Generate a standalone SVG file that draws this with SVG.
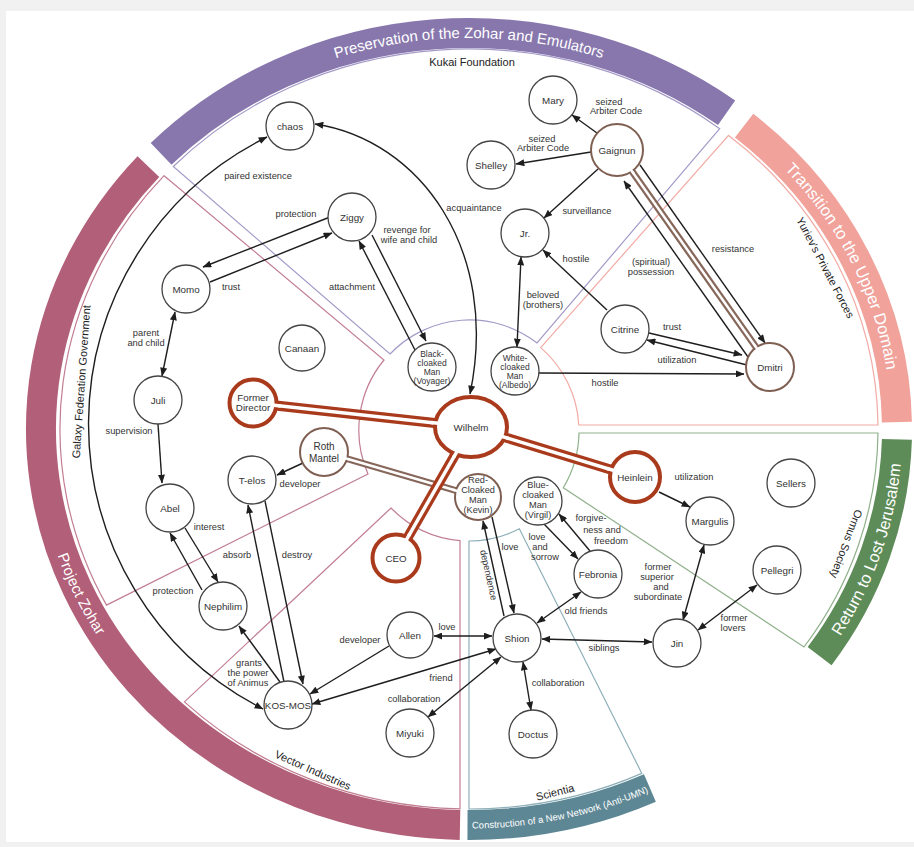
<svg xmlns="http://www.w3.org/2000/svg" width="914" height="847" viewBox="0 0 914 847">
<defs>
<style>
.band{fill:none;stroke-width:30;stroke-linecap:butt}
.bt{font-family:"Liberation Sans",Arial,sans-serif;font-size:15px;fill:#fff}
.reg{fill:none;stroke-width:1.2}
.rl{font-family:"Liberation Sans",Arial,sans-serif;font-size:11px;fill:#222;text-anchor:middle}
.n{fill:#fff;stroke:#444;stroke-width:1.3}
.nr{fill:#fff;stroke:#a93a1c;stroke-width:4}
.nb{fill:#fff;stroke:#7e5f52;stroke-width:2}
.t{font-family:"Liberation Sans",Arial,sans-serif;font-size:9.8px;fill:#333;text-anchor:middle}
.ts{font-family:"Liberation Sans",Arial,sans-serif;font-size:8.5px;fill:#333;text-anchor:middle}
.tm{font-family:"Liberation Sans",Arial,sans-serif;font-size:9.2px;fill:#333;text-anchor:middle}
.e{fill:none;stroke:#1e1e1e;stroke-width:1.4}
.el{font-family:"Liberation Sans",Arial,sans-serif;font-size:9.3px;fill:#333;text-anchor:middle}
.tr{stroke:#a93a1c;stroke-width:10;fill:none}
.tb{stroke:#86675a;stroke-width:7;fill:none}
.tw{stroke:#fff;stroke-width:3.5;fill:none}
.twb{stroke:#fff;stroke-width:2.5;fill:none}
</style>
<marker id="ah" viewBox="0 0 10 8" refX="9.5" refY="4" markerWidth="9" markerHeight="7" markerUnits="userSpaceOnUse" orient="auto-start-reverse">
<path d="M0,0 L10,4 L0,8 z" fill="#1e1e1e"/>
</marker>
<path id="tp-purple" d="M172.7,152.5 A419,391 0 0 1 765.3,152.5"/>
<path id="tp-salmon" d="M740.6,129.9 A422.5,390.5 0 0 1 891.5,429"/>
<path id="tp-green" d="M824.1,659.3 A433.5,401.5 0 0 0 902.4,436"/>
<path id="tp-teal" d="M469,828.5 A431.5,399.5 0 0 0 651.4,791.1"/>
<path id="tp-pink" d="M37.1,464 A433.5,401.5 0 0 0 157.2,707.9"/>
</defs>

<rect x="0" y="0" width="914" height="847" fill="#f1f1f1"/>
<rect x="6" y="11" width="908" height="831" fill="#fff"/>

<g id="bands">
<path class="band" stroke="#8877ad" d="M161.1,153.9 A428,396 0 0 1 726.6,112.8"/>
<path class="band" stroke="#f0a29b" d="M744.1,125.7 A428,396 0 0 1 896.9,422.1"/>
<path class="band" stroke="#5d8c58" d="M896.9,439.4 A428,396 0 0 1 819.6,656.1"/>
<path class="band" stroke="#5d8795" d="M649.9,787.9 A428,396 0 0 1 467.5,825"/>
<path class="band" stroke="#b25f79" d="M460,824.9 A428,396 0 0 1 148.4,166.6"/>
<text class="bt"><textPath href="#tp-purple" startOffset="50%" text-anchor="middle">Preservation of the Zohar and Emulators</textPath></text>
<text class="bt" style="font-size:16.5px"><textPath href="#tp-salmon" startOffset="50%" text-anchor="middle">Transition to the Upper Domain</textPath></text>
<text class="bt" style="font-size:16.5px"><textPath href="#tp-green" startOffset="50%" text-anchor="middle">Return to Lost Jerusalem</textPath></text>
<text class="bt" style="font-size:9.5px"><textPath href="#tp-teal" startOffset="50%" text-anchor="middle">Construction of a New Network (Anti-UMN)</textPath></text>
<text class="bt"><textPath href="#tp-pink" startOffset="50%" text-anchor="middle">Project Zohar</textPath></text>
</g>

<g id="regions">
<path class="reg" stroke="#a49ac8" d="M173.3,166.5 A409,380 0 0 1 719.7,128.7 L537,343 A110,110 0 0 0 390,354 Z"/>
<path class="reg" stroke="#c27d92" d="M164.1,175.7 L384,360 A110,110 0 0 0 368,474 L106.5,605.1 A409,380 0 0 1 164.1,175.7 Z"/>
<path class="reg" stroke="#c27d92" d="M391,508 L184.4,701.9 A409,380 0 0 0 460,808.9 L460,540.6 A110,110 0 0 1 391,508 Z"/>
<path class="reg" stroke="#8eb0b9" d="M469,541 A110,110 0 0 0 519.3,528.8 L641.8,773.4 A409,380 0 0 1 469,809 Z"/>
<path class="reg" stroke="#8fb18b" d="M579,433 L878,433 A409,380 0 0 1 804,647 L563.3,487.7 A110,110 0 0 0 579,433 Z"/>
<path class="reg" stroke="#f3aaa4" d="M578.8,425 L878,425 A409,380 0 0 0 728.6,135.4 L540.7,347.6 A110,110 0 0 1 578.8,425 Z"/>
<text class="rl" x="472" y="66">Kukai Foundation</text>
<text class="rl" transform="translate(85,382) rotate(-86)">Galaxy Federation Government</text>
<text class="rl" transform="translate(311.4,773.7) rotate(24)">Vector Industries</text>
<text class="rl" transform="translate(556,796) rotate(-14)">Scientia</text>
<text class="rl" transform="translate(822,269.4) rotate(62.4)">Yuriev's Private Forces</text>
<text class="rl" transform="translate(842.8,542.6) rotate(110.6)">Ormus Society</text>
</g>

<g id="connectors">
<line class="tb" x1="324" y1="452" x2="478" y2="497"/>
<line class="twb" x1="324" y1="452" x2="478" y2="497"/>
<line class="tb" x1="617" y1="150" x2="770" y2="367"/>
<line class="twb" x1="617" y1="150" x2="770" y2="367"/>
<line class="tr" x1="253" y1="403" x2="471" y2="427"/>
<line class="tr" x1="471" y1="427" x2="635" y2="477"/>
<line class="tr" x1="471" y1="427" x2="396" y2="558"/>
<line class="tw" x1="253" y1="403" x2="471" y2="427"/>
<line class="tw" x1="471" y1="427" x2="635" y2="477"/>
<line class="tw" x1="471" y1="427" x2="396" y2="558"/>
<path class="e" marker-end="url(#ah)" d="M330,217 L203,267"/>
<path class="e" marker-end="url(#ah)" d="M210,282 L332,233"/>
<path class="e" marker-end="url(#ah)" d="M372,235 L426,341"/>
<path class="e" marker-end="url(#ah)" d="M415,350 L359,241"/>
<path class="e" marker-start="url(#ah)" marker-end="url(#ah)" d="M175,312 L162,376"/>
<path class="e" marker-end="url(#ah)" d="M158,424 L162,483"/>
<path class="e" marker-end="url(#ah)" d="M185,528 L218,582"/>
<path class="e" marker-end="url(#ah)" d="M202,590 L170,533"/>
<path class="e" marker-end="url(#ah)" d="M303,463 L277,475"/>
<path class="e" marker-end="url(#ah)" d="M284,682 L248,505"/>
<path class="e" marker-end="url(#ah)" d="M265,501 L303,684"/>
<path class="e" marker-end="url(#ah)" d="M280,682 L239,626"/>
<path class="e" marker-end="url(#ah)" d="M389,646 L310,694"/>
<path class="e" marker-start="url(#ah)" marker-end="url(#ah)" d="M312,704 L496,649"/>
<path class="e" marker-start="url(#ah)" marker-end="url(#ah)" d="M434,636 L492,636"/>
<path class="e" marker-start="url(#ah)" marker-end="url(#ah)" d="M501,657 L428,717"/>
<path class="e" marker-start="url(#ah)" marker-end="url(#ah)" d="M523,662 L531,710"/>
<path class="e" marker-start="url(#ah)" marker-end="url(#ah)" d="M542,639 L652,642"/>
<path class="e" marker-start="url(#ah)" marker-end="url(#ah)" d="M537,623 L581,592"/>
<path class="e" marker-end="url(#ah)" d="M492,517 L514,613"/>
<path class="e" marker-end="url(#ah)" d="M504,616 L483,521"/>
<path class="e" marker-end="url(#ah)" d="M544,524 L578,559"/>
<path class="e" marker-end="url(#ah)" d="M590,551 L559,514"/>
<path class="e" marker-end="url(#ah)" d="M659,492 L690,507"/>
<path class="e" marker-start="url(#ah)" marker-end="url(#ah)" d="M704,545 L683,620"/>
<path class="e" marker-start="url(#ah)" marker-end="url(#ah)" d="M698,630 L757,585"/>
<path class="e" marker-end="url(#ah)" d="M539,373 L744,374"/>
<path class="e" marker-end="url(#ah)" d="M747,365 L647,340"/>
<path class="e" marker-end="url(#ah)" d="M649,333 L742,355"/>
<path class="e" marker-end="url(#ah)" d="M607,310 L543,250"/>
<path class="e" marker-start="url(#ah)" marker-end="url(#ah)" d="M521,257 L517,347"/>
<path class="e" marker-end="url(#ah)" d="M598,169 L544,218"/>
<path class="e" marker-end="url(#ah)" d="M597,133 L572,115"/>
<path class="e" marker-end="url(#ah)" d="M591,152 L516,164"/>
<path class="e" marker-end="url(#ah)" d="M640,165 L765,343"/>
<path class="e" marker-end="url(#ah)" d="M748,357 L624,181"/>
<path class="e" marker-start="url(#ah)" marker-end="url(#ah)" d="M267,137 A320,320 0 0 0 263,709"/>
<path class="e" marker-start="url(#ah)" marker-end="url(#ah)" d="M315,124 C420,140 500,250 470,394"/>
</g>

<g id="edge-labels">
<text class="el" x="258" y="179">paired existence</text>
<text class="el" x="474" y="211">acquaintance</text>
<text class="el" x="296" y="217">protection</text>
<text class="el" x="231" y="290">trust</text>
<text class="el" x="407" y="233">revenge for</text>
<text class="el" x="409" y="243">wife and child</text>
<text class="el" x="352" y="290">attachment</text>
<text class="el" x="146" y="336">parent</text>
<text class="el" x="146" y="346">and child</text>
<text class="el" x="129" y="434">supervision</text>
<text class="el" x="209" y="530">interest</text>
<text class="el" x="173" y="594">protection</text>
<text class="el" x="300" y="487">developer</text>
<text class="el" x="237" y="558">absorb</text>
<text class="el" x="297" y="558">destroy</text>
<text class="el" x="249" y="666">grants</text>
<text class="el" x="248" y="676">the power</text>
<text class="el" x="248" y="686">of Animus</text>
<text class="el" x="360" y="643">developer</text>
<text class="el" x="441" y="681">friend</text>
<text class="el" x="447" y="630">love</text>
<text class="el" x="414" y="702">collaboration</text>
<text class="el" x="558" y="686">collaboration</text>
<text class="el" x="604" y="651">siblings</text>
<text class="el" x="586" y="614">old friends</text>
<text class="el" x="510" y="550">love</text>
<text class="el" transform="translate(485.6,575.7) rotate(77.5)">dependence</text>
<text class="el" x="537" y="540">love</text>
<text class="el" x="540" y="550">and</text>
<text class="el" x="545" y="560">sorrow</text>
<text class="el" x="591" y="521">forgive-</text>
<text class="el" x="602" y="533">ness and</text>
<text class="el" x="611" y="544">freedom</text>
<text class="el" x="694" y="480">utilization</text>
<text class="el" x="658" y="570">former</text>
<text class="el" x="657" y="580">superior</text>
<text class="el" x="661" y="590">and</text>
<text class="el" x="658" y="600">subordinate</text>
<text class="el" x="734" y="621">former</text>
<text class="el" x="733" y="631">lovers</text>
<text class="el" x="605" y="386">hostile</text>
<text class="el" x="677" y="363">utilization</text>
<text class="el" x="672" y="330">trust</text>
<text class="el" x="576" y="262">hostile</text>
<text class="el" x="543" y="298">beloved</text>
<text class="el" x="543" y="308">(brothers)</text>
<text class="el" x="587" y="214">surveillance</text>
<text class="el" x="609" y="105">seized</text>
<text class="el" x="616" y="114">Arbiter Code</text>
<text class="el" x="542" y="142">seized</text>
<text class="el" x="543" y="151">Arbiter Code</text>
<text class="el" x="733" y="252">resistance</text>
<text class="el" x="651" y="265">(spiritual)</text>
<text class="el" x="651" y="275">possession</text>
</g>

<g id="nodes">
<g id="n-chaos"><circle class="n" cx="290" cy="126" r="24"/><text class="t" x="290" y="129.5">chaos</text></g>
<g id="n-ziggy"><circle class="n" cx="352" cy="217" r="24"/><text class="t" x="352" y="220.5">Ziggy</text></g>
<g id="n-momo"><circle class="n" cx="186" cy="289" r="24"/><text class="t" x="186" y="292.5">Momo</text></g>
<g id="n-canaan"><circle class="n" cx="302" cy="348" r="23"/><text class="t" x="302" y="351.5">Canaan</text></g>
<g id="n-black"><circle class="n" cx="432" cy="367" r="24"/><text class="ts" x="432" y="356.5">Black-</text><text class="ts" x="432" y="365.5">cloaked</text><text class="ts" x="432" y="374.5">Man</text><text class="ts" x="432" y="383.5">(Voyager)</text></g>
<g id="n-juli"><circle class="n" cx="158" cy="400" r="24"/><text class="t" x="158" y="403.5">Juli</text></g>
<g id="n-abel"><circle class="n" cx="170" cy="508" r="24"/><text class="t" x="170" y="511.5">Abel</text></g>
<g id="n-former-director"><circle class="nr" cx="253" cy="403" r="23.5"/><text class="t" x="253" y="400.5">Former</text><text class="t" x="253" y="410.5">Director</text></g>
<g id="n-telos"><circle class="n" cx="252" cy="480" r="24"/><text class="t" x="252" y="483.5">T-elos</text></g>
<g id="n-roth"><circle class="nb" cx="324" cy="452" r="24"/><text class="t" x="324" y="450" style="font-size:10px">Roth</text><text class="t" x="324" y="461.5" style="font-size:10px">Mantel</text></g>
<g id="n-wilhelm"><ellipse class="nr" cx="471" cy="427" rx="36" ry="30"/><text class="t" x="471" y="430.5">Wilhelm</text></g>
<g id="n-kevin"><circle class="nb" cx="478" cy="497" r="23"/><text class="tm" x="478" y="482.5">Red-</text><text class="tm" x="478" y="492.5">Cloaked</text><text class="tm" x="478" y="502.5">Man</text><text class="tm" x="478" y="512.5">(Kevin)</text></g>
<g id="n-ceo"><circle class="nr" cx="396" cy="558" r="23.5"/><text class="t" x="396" y="561.5">CEO</text></g>
<g id="n-virgil"><circle class="n" cx="538" cy="501" r="24"/><text class="tm" x="538" y="488">Blue-</text><text class="tm" x="538" y="498">cloaked</text><text class="tm" x="538" y="508">Man</text><text class="tm" x="538" y="518">(Virgil)</text></g>
<g id="n-febronia"><circle class="n" cx="598" cy="574" r="24"/><text class="t" x="598" y="577.5">Febronia</text></g>
<g id="n-albedo"><circle class="n" cx="515" cy="371" r="24"/><text class="ts" x="515" y="360.5">White-</text><text class="ts" x="515" y="369.5">cloaked</text><text class="ts" x="515" y="378.5">Man</text><text class="ts" x="515" y="387.5">(Albedo)</text></g>
<g id="n-heinlein"><circle class="nr" cx="635" cy="477" r="25"/><text class="t" x="635" y="480.5">Heinlein</text></g>
<g id="n-margulis"><circle class="n" cx="710" cy="521" r="24"/><text class="t" x="710" y="524.5">Margulis</text></g>
<g id="n-sellers"><circle class="n" cx="791" cy="483" r="24"/><text class="t" x="791" y="486.5">Sellers</text></g>
<g id="n-pellegri"><circle class="n" cx="777" cy="570" r="24"/><text class="t" x="777" y="573.5">Pellegri</text></g>
<g id="n-jin"><circle class="n" cx="677" cy="643" r="24"/><text class="t" x="677" y="646.5">Jin</text></g>
<g id="n-shion"><circle class="n" cx="517" cy="638" r="24"/><text class="t" x="517" y="641.5">Shion</text></g>
<g id="n-allen"><circle class="n" cx="410" cy="635" r="23"/><text class="t" x="410" y="638.5">Allen</text></g>
<g id="n-nephilim"><circle class="n" cx="223" cy="606" r="24"/><text class="t" x="223" y="609.5">Nephilim</text></g>
<g id="n-kosmos"><circle class="n" cx="288" cy="705" r="24"/><text class="t" x="288" y="708.5">KOS-MOS</text></g>
<g id="n-miyuki"><circle class="n" cx="410" cy="733" r="24"/><text class="t" x="410" y="736.5">Miyuki</text></g>
<g id="n-doctus"><circle class="n" cx="533" cy="734" r="24"/><text class="t" x="533" y="737.5">Doctus</text></g>
<g id="n-mary"><circle class="n" cx="553" cy="100" r="24"/><text class="t" x="553" y="103.5">Mary</text></g>
<g id="n-shelley"><circle class="n" cx="491" cy="165" r="24"/><text class="t" x="491" y="168.5">Shelley</text></g>
<g id="n-gaignun"><circle class="nb" cx="617" cy="150" r="26"/><text class="t" x="617" y="153.5">Gaignun</text></g>
<g id="n-jr"><circle class="n" cx="525" cy="233" r="24"/><text class="t" x="525" y="236.5">Jr.</text></g>
<g id="n-citrine"><circle class="n" cx="625" cy="329" r="24"/><text class="t" x="625" y="332.5">Citrine</text></g>
<g id="n-dmitri"><circle class="nb" cx="770" cy="367" r="24"/><text class="t" x="770" y="370.5">Dmitri</text></g>
</g>

<g id="tube-joins">
<line class="twb" x1="342.2" y1="457.3" x2="349.9" y2="459.6"/>
<line class="twb" x1="460.7" y1="492" x2="453" y2="489.7"/>
<line class="twb" x1="629.1" y1="167.2" x2="633.7" y2="173.7"/>
<line class="twb" x1="759.1" y1="351.5" x2="754.4" y2="344.9"/>
<line class="tw" x1="271.9" y1="405.1" x2="280.8" y2="406.1"/>
<line class="tw" x1="440.2" y1="423.6" x2="431.2" y2="422.6"/>
<line class="tw" x1="499.7" y1="435.8" x2="508.3" y2="438.4"/>
<line class="tw" x1="615.9" y1="471.2" x2="607.3" y2="468.5"/>
<line class="tw" x1="458.1" y1="449.6" x2="453.6" y2="457.4"/>
<line class="tw" x1="405.4" y1="541.5" x2="409.9" y2="533.7"/>
</g>
</svg>
